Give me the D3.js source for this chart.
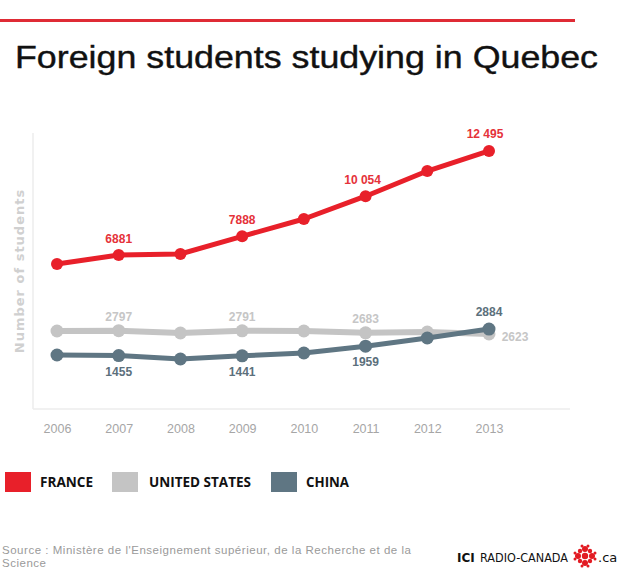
<!DOCTYPE html>
<html>
<head>
<meta charset="utf-8">
<script src="https://cdn.jsdelivr.net/npm/d3@7"></script>
<style>
  html, body { margin: 0; padding: 0; background: #fff; }
  svg { display: block; }
</style>
</head>
<body>
<script>
// ---- data ----
const years = [2006, 2007, 2008, 2009, 2010, 2011, 2012, 2013];
const france = [6395, 6881, 6935, 7888, 8824, 10054, 11414, 12495];
const unitedStates = [2780, 2797, 2672, 2791, 2780, 2683, 2726, 2623];
const china = [1484, 1455, 1268, 1441, 1592, 1959, 2402, 2884];
const seriesNames = ["FRANCE", "UNITED STATES", "CHINA"];
const seriesColors = ["#e8202a", "#c4c4c4", "#5f7683"];
const labelColors = ["#e5323a", "#c6c6c6", "#5c707c"];
const labelledYears = [2007, 2009, 2011, 2013];
const yDomain = [-1430, 13465];
const title = "Foreign students studying in Quebec";
const yTitle = "Number of students";
const sourceLines = ["Source : Ministère de l'Enseignement supérieur, de la Recherche et de la", "Science"];

const W = 620, H = 578;
const svg = d3.select("body").append("svg").attr("width", W).attr("height", H);

// top red rule
svg.append("rect").attr("x", 0).attr("y", 19).attr("width", 575).attr("height", 3).attr("fill", "#df2b35");

// title
svg.append("text").attr("x", 15).attr("y", 68)
  .attr("font-family", "Liberation Sans, Arial, sans-serif").attr("font-size", 32)
  .attr("textLength", 583).attr("lengthAdjust", "spacingAndGlyphs")
  .attr("fill", "#111").attr("stroke", "#111").attr("stroke-width", 0.4).text(title);

// scales
const x = d3.scalePoint().domain(years).range([57, 489]);
const y = d3.scaleLinear().domain(yDomain).range([409, 133]);

// axis frame
svg.append("line").attr("x1", 33).attr("x2", 33).attr("y1", 133).attr("y2", 409).attr("stroke", "#ececec").attr("stroke-width", 1.5);
svg.append("line").attr("x1", 33).attr("x2", 570).attr("y1", 409).attr("y2", 409).attr("stroke", "#ececec").attr("stroke-width", 1.5);

// x axis labels via d3 axis
const xAxis = svg.append("g").attr("transform", "translate(0,409)")
  .call(d3.axisBottom(x).tickSize(0).tickPadding(15).tickFormat(d3.format("d")));
xAxis.select(".domain").remove();
xAxis.selectAll("text").attr("font-family", "Liberation Sans, Arial, sans-serif").attr("font-size", 12.5).attr("fill", "#a6a6a6");

// y title
svg.append("text").attr("transform", "translate(24,271) rotate(-90)")
  .attr("text-anchor", "middle").attr("font-family", "DejaVu Sans, sans-serif")
  .attr("font-size", 13).attr("font-weight", "bold").attr("letter-spacing", 1.0)
  .attr("fill", "#d0d0d0").text(yTitle);

// series
const data = [france, unitedStates, china];
const widths = [5, 6, 5];
const radii = [6, 6.5, 6.5];
const line = d3.line().x((d, i) => x(years[i])).y(d => y(d));

// draw in order: US, China, France
[1, 2, 0].forEach(si => {
  const g = svg.append("g");
  g.append("path").datum(data[si]).attr("d", line).attr("fill", "none")
    .attr("stroke", seriesColors[si]).attr("stroke-width", widths[si]).attr("stroke-linejoin", "round");
  g.selectAll("circle").data(data[si]).join("circle")
    .attr("cx", (d, i) => x(years[i])).attr("cy", d => y(d)).attr("r", radii[si]).attr("fill", seriesColors[si]);
});

// value labels
const fmt = v => v >= 10000 ? d3.format(",")(v).replace(/,/g, " ") : String(v);
const labelPlacement = [
  { 2007: [0, -16], 2009: [0, -16], 2011: [-3, -16], 2013: [-4, -17] },
  { 2007: [0, -14], 2009: [0, -14], 2011: [0, -14], 2013: [26, 3] },
  { 2007: [0, 16], 2009: [0, 16], 2011: [0, 16], 2013: [0, -17] }
];
data.forEach((series, si) => {
  labelledYears.forEach(yr => {
    const i = years.indexOf(yr);
    const off = labelPlacement[si][yr];
    svg.append("text")
      .attr("x", x(yr) + off[0]).attr("y", y(series[i]) + off[1])
      .attr("text-anchor", "middle").attr("dominant-baseline", "central")
      .attr("font-family", "Liberation Sans, Arial, sans-serif").attr("font-size", 12)
      .attr("font-weight", "bold").attr("fill", labelColors[si]).text(fmt(series[i]));
  });
});

// legend
const legendX = [5, 112, 271];
const legendTextX = [40, 149, 306];
const legendTextW = [53, 102, 43];
seriesNames.forEach((name, i) => {
  svg.append("rect").attr("x", legendX[i]).attr("y", 472).attr("width", 26).attr("height", 20).attr("fill", seriesColors[i]);
  svg.append("text").attr("x", legendTextX[i]).attr("y", 487)
    .attr("font-family", "Open Sans, sans-serif").attr("font-size", 13.5).attr("font-weight", "bold")
    .attr("textLength", legendTextW[i]).attr("lengthAdjust", "spacingAndGlyphs")
    .attr("fill", "#111").text(name);
});

// source
const sourceW = [409, 44];
sourceLines.forEach((t, i) => {
  svg.append("text").attr("x", 2).attr("y", 554 + i * 13)
    .attr("font-family", "Liberation Sans, Arial, sans-serif").attr("font-size", 11.5)
    .attr("textLength", sourceW[i]).attr("lengthAdjust", "spacing")
    .attr("fill", "#9a9a9a").text(t);
});

// logo
const logo = svg.append("g");
logo.append("text").attr("x", 457).attr("y", 562)
  .attr("font-family", "DejaVu Sans, sans-serif").attr("font-size", 12).attr("font-weight", "bold")
  .attr("fill", "#111").text("ICI");
logo.append("text").attr("x", 480).attr("y", 562)
  .attr("font-family", "DejaVu Sans, sans-serif").attr("font-size", 11.5)
  .attr("textLength", 88).attr("lengthAdjust", "spacingAndGlyphs")
  .attr("fill", "#111").text("RADIO-CANADA");
const gx = 585, gy = 556;
logo.append("circle").attr("cx", gx).attr("cy", gy).attr("r", 3.2).attr("fill", "#e21b23");
[[0, -7], [0, 7], [-7, 0], [7, 0]].forEach(([dx, dy]) => {
  logo.append("circle").attr("cx", gx + dx).attr("cy", gy + dy).attr("r", 3).attr("fill", "#e21b23");
});
[[-5, -5], [5, -5], [-5, 5], [5, 5]].forEach(([dx, dy]) => {
  logo.append("circle").attr("cx", gx + dx).attr("cy", gy + dy).attr("r", 2.2).attr("fill", "#e21b23");
});
[[-10, -3], [-10, 3], [10, -3], [10, 3], [-3, -10], [3, -10], [-3, 10], [3, 10]].forEach(([dx, dy]) => {
  logo.append("circle").attr("cx", gx + dx).attr("cy", gy + dy).attr("r", 1.5).attr("fill", "#e21b23");
});
logo.append("text").attr("x", 598).attr("y", 562)
  .attr("font-family", "DejaVu Sans, sans-serif").attr("font-size", 13)
  .attr("fill", "#111").text(".ca");
</script>
</body>
</html>
